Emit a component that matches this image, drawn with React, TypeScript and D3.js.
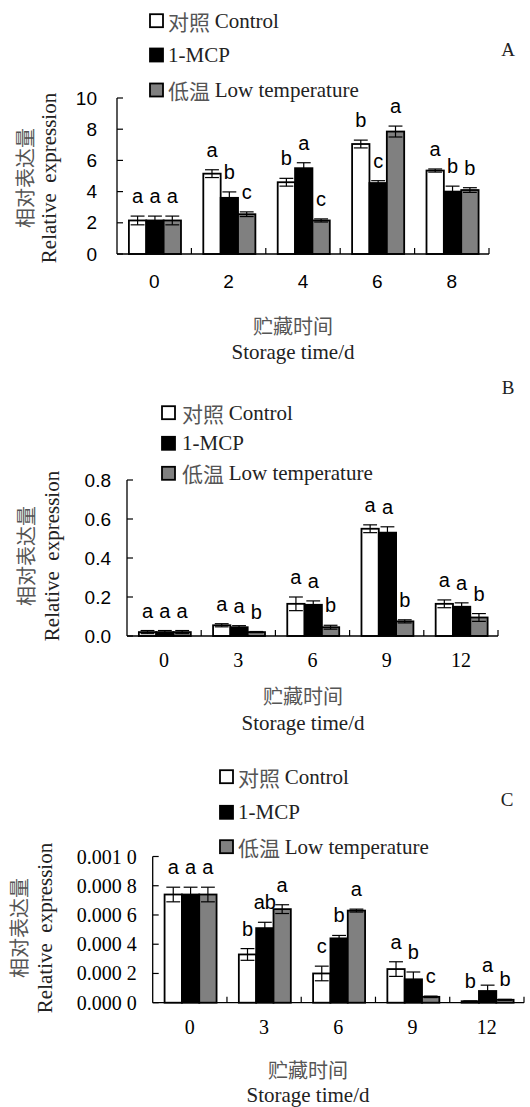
import React from 'react';
import * as d3 from 'd3';

// ---------- DATA ----------
const seriesCn = ['对照', '', '低温'];
const seriesEn = ['Control', '1-MCP', 'Low temperature'];
const seriesFills = ['#ffffff', '#000000', '#808080'];

// Panel A
const catsA = ['0', '2', '4', '6', '8'];
const controlA = [2.15, 5.15, 4.6, 7.05, 5.35];
const controlErrA = [0.28, 0.25, 0.25, 0.25, 0.1];
const mcpA = [2.15, 3.6, 5.5, 4.55, 4.0];
const mcpErrA = [0.28, 0.38, 0.35, 0.15, 0.35];
const lowA = [2.15, 2.55, 2.15, 7.85, 4.1];
const lowErrA = [0.28, 0.15, 0.1, 0.35, 0.15];
const lettersControlA = ['a', 'a', 'b', 'b', 'a'];
const lettersMcpA = ['a', 'b', 'a', 'c', 'b'];
const lettersLowA = ['a', 'c', 'c', 'a', 'b'];
const ticksA = [0, 2, 4, 6, 8, 10];
const tickLabelsA = ['0', '2', '4', '6', '8', '10'];

// Panel B
const catsB = ['0', '3', '6', '9', '12'];
const controlB = [0.02, 0.055, 0.165, 0.55, 0.165];
const controlErrB = [0.008, 0.008, 0.035, 0.02, 0.02];
const mcpB = [0.02, 0.045, 0.16, 0.53, 0.15];
const mcpErrB = [0.008, 0.008, 0.02, 0.03, 0.02];
const lowB = [0.02, 0.02, 0.045, 0.075, 0.095];
const lowErrB = [0.008, 0.003, 0.01, 0.008, 0.02];
const lettersControlB = ['a', 'a', 'a', 'a', 'a'];
const lettersMcpB = ['a', 'a', 'a', 'a', 'a'];
const lettersLowB = ['a', 'b', 'b', 'b', 'b'];
const ticksB = [0, 0.2, 0.4, 0.6, 0.8];
const tickLabelsB = ['0.0', '0.2', '0.4', '0.6', '0.8'];

// Panel C
const catsC = ['0', '3', '6', '9', '12'];
const controlC = [0.00074, 0.00033, 0.0002, 0.00023, 0.00001];
const controlErrC = [0.00005, 0.00004, 0.00005, 0.00005, 0.000002];
const mcpC = [0.00074, 0.00051, 0.00044, 0.00016, 0.00008];
const mcpErrC = [0.00005, 0.00004, 0.00002, 0.00005, 0.00004];
const lowC = [0.00074, 0.00064, 0.00063, 0.00004, 0.00002];
const lowErrC = [0.00005, 0.00003, 0.00001, 0.000005, 0.000003];
const lettersControlC = ['a', 'b', 'c', 'a', 'b'];
const lettersMcpC = ['a', 'ab', 'b', 'b', 'a'];
const lettersLowC = ['a', 'a', 'a', 'c', 'b'];
const ticksC = [0, 0.0002, 0.0004, 0.0006, 0.0008, 0.001];
const tickLabelsC = ['0.000 0', '0.000 2', '0.000 4', '0.000 6', '0.000 8', '0.001 0'];

// ---------- FONTS ----------
const SANS = '"Liberation Sans", Arial, sans-serif';
const SERIF = '"Liberation Serif", "Noto Sans CJK SC", serif';
const CJK = '"Noto Sans CJK SC", sans-serif';
const CJK_FILL = '#555';

type PanelProps = {
  cats: string[];
  values: number[][];
  errs: number[][];
  letters: string[][];
  ticks: number[];
  tickLabels: string[];
  yMax: number;
  x0: number; x1: number; yTop: number; yBottom: number;
  yTickFont: string; xTickFont: string; xTickY: number;
  legend: { sqX: number; textX: number; ys: number[] };
  panelLabel: string; panelLabelPos: [number, number];
  xTitle: { x: number; y1: number; y2: number };
  yTitle: { x1: number; x2: number; y: number };
  tickLabelGap: number;
};

function Panel(p: PanelProps) {
  const x = d3.scaleBand<string>().domain(p.cats).range([p.x0, p.x1]).paddingInner(0).paddingOuter(0);
  const y = d3.scaleLinear().domain([0, p.yMax]).range([p.yBottom, p.yTop]);
  const bw = x.bandwidth();
  const sub = d3.scaleBand<number>().domain([0, 1, 2]).range([bw * 0.16, bw * 0.86]).padding(0);
  const sbw = sub.bandwidth();
  const capW = sbw * 0.8;
  const boundaries = p.cats.map((c) => (x(c) as number)).slice(1).concat([p.x1]);

  return (
    <g>
      {/* bars */}
      {p.values.map((vals, s) =>
        vals.map((v, i) => {
          const bx = (x(p.cats[i]) as number) + (sub(s) as number);
          return (
            <rect key={`b${s}-${i}`} x={bx} y={y(v)} width={sbw} height={p.yBottom - y(v)}
              fill={seriesFills[s]} stroke="#000" strokeWidth={1.8} />
          );
        })
      )}
      {/* error bars */}
      {p.values.map((vals, s) =>
        vals.map((v, i) => {
          const cx = (x(p.cats[i]) as number) + (sub(s) as number) + sbw / 2;
          const e = p.errs[s][i];
          const yt = y(v + e);
          const yb = y(Math.max(0, v - e));
          return (
            <g key={`e${s}-${i}`} stroke="#000" strokeWidth={1.2}>
              <line x1={cx} x2={cx} y1={yt} y2={yb} />
              <line x1={cx - capW / 2} x2={cx + capW / 2} y1={yt} y2={yt} />
              <line x1={cx - capW / 2} x2={cx + capW / 2} y1={yb} y2={yb} />
            </g>
          );
        })
      )}
      {/* letters */}
      {p.letters.map((ls, s) =>
        ls.map((l, i) => {
          const cx = (x(p.cats[i]) as number) + (sub(s) as number) + sbw / 2;
          const top = y(p.values[s][i] + p.errs[s][i]);
          return (
            <text key={`l${s}-${i}`} x={cx} y={top - 13} textAnchor="middle" fontFamily={SANS} fontSize={20}>{l}</text>
          );
        })
      )}
      {/* axes */}
      <line x1={p.x0} x2={p.x0} y1={p.yTop} y2={p.yBottom} stroke="#000" strokeWidth={1.3} />
      <line x1={p.x0} x2={p.x1} y1={p.yBottom} y2={p.yBottom} stroke="#000" strokeWidth={1.3} />
      {p.ticks.map((t, i) => (
        <g key={`yt${i}`}>
          <line x1={p.x0} x2={p.x0 + 6} y1={y(t)} y2={y(t)} stroke="#000" strokeWidth={1.2} />
          <text x={p.x0 - p.tickLabelGap} y={y(t)} textAnchor="end" dominantBaseline="central"
            fontFamily={p.yTickFont} fontSize={p.yTickFont === SANS ? 19 : 20}>{p.tickLabels[i]}</text>
        </g>
      ))}
      {boundaries.map((bx, i) => (
        <line key={`xt${i}`} x1={bx} x2={bx} y1={p.yBottom} y2={p.yBottom - 6} stroke="#000" strokeWidth={1.2} />
      ))}
      {p.cats.map((c) => (
        <text key={`xl${c}`} x={(x(c) as number) + bw / 2} y={p.xTickY} textAnchor="middle" dominantBaseline="central"
          fontFamily={p.xTickFont} fontSize={p.xTickFont === SANS ? 19 : 20}>{c}</text>
      ))}
      {/* axis titles */}
      <text x={p.xTitle.x} y={p.xTitle.y1} textAnchor="middle" dominantBaseline="central" fontFamily={CJK} fontSize={20} fill={CJK_FILL}>贮藏时间</text>
      <text x={p.xTitle.x} y={p.xTitle.y2} textAnchor="middle" dominantBaseline="central" fontFamily={SERIF} fontSize={21} fill="#222">Storage time/d</text>
      <text transform={`translate(${p.yTitle.x1},${p.yTitle.y}) rotate(-90)`} textAnchor="middle" dominantBaseline="central" fontFamily={CJK} fontSize={20} fill={CJK_FILL}>相对表达量</text>
      <text transform={`translate(${p.yTitle.x2},${p.yTitle.y}) rotate(-90)`} textAnchor="middle" dominantBaseline="central" fontFamily={SERIF} fontSize={21} fill="#222" style={{ whiteSpace: 'pre' }}>Relative  expression</text>
      {/* legend */}
      {seriesEn.map((n, s) => (
        <g key={`lg${s}`}>
          <rect x={p.legend.sqX} y={p.legend.ys[s] - 6.5} width={13} height={13} fill={seriesFills[s]} stroke="#000" strokeWidth={1.8} />
          <text x={p.legend.textX} y={p.legend.ys[s]} dominantBaseline="central" fontFamily={SERIF} fontSize={21} fill="#222" style={{ whiteSpace: 'pre' }}>
            {seriesCn[s] ? <tspan fontFamily={CJK} fill={CJK_FILL}>{seriesCn[s] + ' '}</tspan> : null}
            <tspan>{n}</tspan>
          </text>
        </g>
      ))}
      <text x={p.panelLabelPos[0]} y={p.panelLabelPos[1]} textAnchor="middle" dominantBaseline="central" fontFamily={SERIF} fontSize={19} fill="#222">{p.panelLabel}</text>
    </g>
  );
}

export default function App() {
  return (
    <svg width={530} height={1107} style={{ position: 'absolute', left: 0, top: 0, background: '#fff' }}>
      <rect width={530} height={1107} fill="#fff" />
      <Panel
        cats={catsA}
        values={[controlA, mcpA, lowA]}
        errs={[controlErrA, mcpErrA, lowErrA]}
        letters={[lettersControlA, lettersMcpA, lettersLowA]}
        ticks={ticksA} tickLabels={tickLabelsA} yMax={10}
        x0={117} x1={489} yTop={98} yBottom={254}
        yTickFont={SANS} xTickFont={SANS} xTickY={281} tickLabelGap={20}
        legend={{ sqX: 150, textX: 168, ys: [20.7, 55, 90] }}
        panelLabel="A" panelLabelPos={[508, 49]}
        xTitle={{ x: 293, y1: 325, y2: 352 }}
        yTitle={{ x1: 24, x2: 49, y: 178 }}
      />
      <Panel
        cats={catsB}
        values={[controlB, mcpB, lowB]}
        errs={[controlErrB, mcpErrB, lowErrB]}
        letters={[lettersControlB, lettersMcpB, lettersLowB]}
        ticks={ticksB} tickLabels={tickLabelsB} yMax={0.8}
        x0={127} x1={498} yTop={480} yBottom={636}
        yTickFont={SANS} xTickFont={SERIF} xTickY={660} tickLabelGap={16}
        legend={{ sqX: 162, textX: 182, ys: [412.7, 443.3, 473.3] }}
        panelLabel="B" panelLabelPos={[508, 387]}
        xTitle={{ x: 303, y1: 695, y2: 723 }}
        yTitle={{ x1: 25, x2: 52, y: 556 }}
      />
      <Panel
        cats={catsC}
        values={[controlC, mcpC, lowC]}
        errs={[controlErrC, mcpErrC, lowErrC]}
        letters={[lettersControlC, lettersMcpC, lettersLowC]}
        ticks={ticksC} tickLabels={tickLabelsC} yMax={0.001}
        x0={152.7} x1={524} yTop={856.5} yBottom={1002.7}
        yTickFont={SERIF} xTickFont={SERIF} xTickY={1027} tickLabelGap={16}
        legend={{ sqX: 220, textX: 238, ys: [776.7, 812.3, 846.7] }}
        panelLabel="C" panelLabelPos={[507, 799]}
        xTitle={{ x: 308, y1: 1069, y2: 1095 }}
        yTitle={{ x1: 18, x2: 45, y: 928 }}
      />
    </svg>
  );
}
